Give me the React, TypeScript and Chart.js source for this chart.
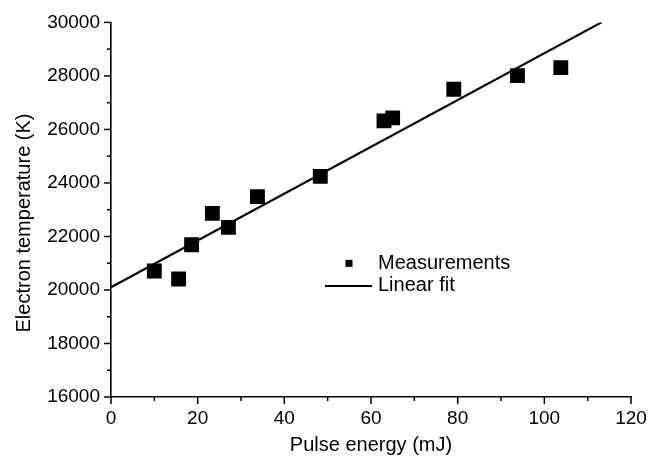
import React, { useEffect, useRef } from "react";
import { Chart, registerables } from "chart.js";

Chart.register(...registerables);

// Measurements
const energyMJ = [10, 15.6, 18.6, 23.4, 27.1, 33.8, 48.3, 63.0, 65.0, 79.1, 93.8, 103.8];
const electronTempK = [20710, 20410, 21690, 22860, 22340, 23490, 24245, 26320, 26430, 27500, 28010, 28310];

// Linear fit end points
const fitX = [0, 113.2];
const fitY = [20100, 30000];

const xTicks = [0, 20, 40, 60, 80, 100, 120];
const yTicks = [16000, 18000, 20000, 22000, 24000, 26000, 28000, 30000];

const xTitle = "Pulse energy (mJ)";
const yTitle = "Electron temperature (K)";
const legendLabels = ["Measurements", "Linear fit"];

const FONT = "'Liberation Sans', Arial, Helvetica, sans-serif";

const decorPlugin = {
  id: "decor",
  afterDraw(chart: any) {
    const { ctx, chartArea, scales } = chart;
    const xs = scales.x;
    const ys = scales.y;
    ctx.save();
    ctx.strokeStyle = "#000";
    ctx.fillStyle = "#000";
    ctx.lineWidth = 1.5;
    // y ticks (major + minor)
    for (let v = yTicks[0]; v <= yTicks[yTicks.length - 1]; v += 1000) {
      const p = ys.getPixelForValue(v);
      const len = v % 2000 === 0 ? 7 : 4;
      ctx.beginPath();
      ctx.moveTo(chartArea.left - len, p);
      ctx.lineTo(chartArea.left, p);
      ctx.stroke();
    }
    // x ticks
    for (let v = xTicks[0]; v <= xTicks[xTicks.length - 1]; v += 10) {
      const p = xs.getPixelForValue(v);
      const len = v % 20 === 0 ? 7 : 4;
      ctx.beginPath();
      ctx.moveTo(p, chartArea.bottom);
      ctx.lineTo(p, chartArea.bottom + len);
      ctx.stroke();
    }
    // y title
    ctx.font = `20px ${FONT}`;
    ctx.textAlign = "center";
    ctx.textBaseline = "middle";
    ctx.translate(24, 223);
    ctx.rotate(-Math.PI / 2);
    ctx.fillText(yTitle, 0, 0);
    ctx.restore();

    // legend
    ctx.save();
    ctx.fillStyle = "#000";
    ctx.strokeStyle = "#000";
    const lx = chartArea.left;
    const ly = chartArea.top;
    ctx.fillRect(lx + 238 - 3.5, ly + 241 - 3.5, 7, 7);
    ctx.lineWidth = 2;
    ctx.beginPath();
    ctx.moveTo(lx + 214, ly + 263.5);
    ctx.lineTo(lx + 261, ly + 263.5);
    ctx.stroke();
    ctx.font = `20px ${FONT}`;
    ctx.textAlign = "left";
    ctx.textBaseline = "middle";
    ctx.fillText(legendLabels[0], lx + 267, ly + 241);
    ctx.fillText(legendLabels[1], lx + 267, ly + 263.5);
    ctx.restore();
  },
};

export default function App() {
  const ref = useRef<HTMLCanvasElement | null>(null);

  useEffect(() => {
    if (!ref.current) return;
    const chart = new Chart(ref.current, {
      type: "scatter",
      data: {
        datasets: [
          {
            label: legendLabels[1],
            type: "line" as any,
            data: fitX.map((x, i) => ({ x, y: fitY[i] })),
            borderColor: "#000",
            borderWidth: 2.2,
            pointRadius: 0,
            showLine: true,
            fill: false,
          } as any,
          {
            label: legendLabels[0],
            data: energyMJ.map((x, i) => ({ x, y: electronTempK[i] })),
            pointStyle: "rect",
            pointRadius: 10.5,
            pointBackgroundColor: "#000",
            pointBorderWidth: 0,
            backgroundColor: "#000",
            borderColor: "#000",
          },
        ],
      },
      options: {
        responsive: false,
        animation: false,
        layout: { padding: { left: 0, right: 30, top: 20, bottom: 0 } },
        plugins: {
          legend: { display: false },
          tooltip: { enabled: false },
        },
        scales: {
          x: {
            type: "linear",
            min: 0,
            max: 120,
            afterFit: (s: any) => {
              s.height = 65;
            },
            afterBuildTicks: (s: any) => {
              s.ticks = xTicks.map((v) => ({ value: v }));
            },
            ticks: {
              padding: 10,
              color: "#000",
              font: { family: FONT, size: 19 },
              callback: (v: any) => String(v),
              maxRotation: 0,
            },
            grid: { display: false, drawTicks: false, tickLength: 0 },
            border: { display: true, color: "#000", width: 1.6 },
            title: {
              display: true,
              text: xTitle,
              color: "#000",
              font: { family: FONT, size: 20 },
              padding: { top: 0, bottom: 5 },
            },
          },
          y: {
            type: "linear",
            min: 16000,
            max: 30000,
            afterFit: (s: any) => {
              s.width = 111;
            },
            afterBuildTicks: (s: any) => {
              s.ticks = yTicks.map((v) => ({ value: v }));
            },
            ticks: {
              padding: 11,
              color: "#000",
              font: { family: FONT, size: 19 },
              callback: (v: any) => String(v),
            },
            grid: { display: false, drawTicks: false, tickLength: 0 },
            border: { display: true, color: "#000", width: 1.6 },
          },
        },
      },
      plugins: [decorPlugin],
    });
    return () => chart.destroy();
  }, []);

  return (
    <div style={{ position: "fixed", left: 0, top: 0, width: 661, height: 462, background: "#fff" }}>
      <canvas ref={ref} width={661} height={462} />
    </div>
  );
}
